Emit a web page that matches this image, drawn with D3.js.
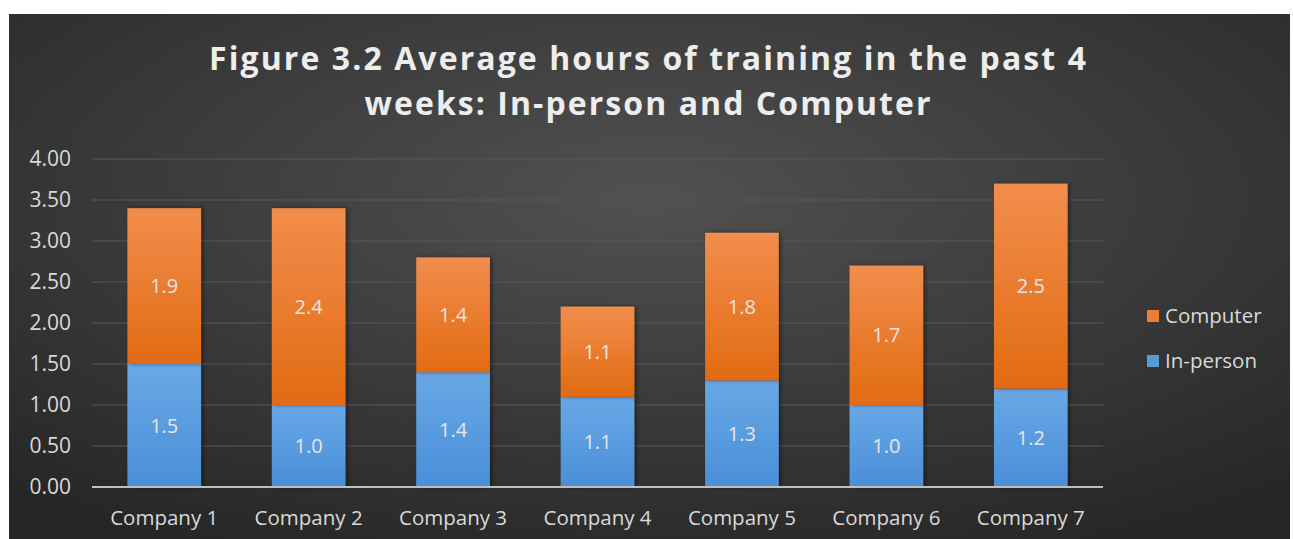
<!DOCTYPE html>
<html>
<head>
<meta charset="utf-8">
<script src="https://cdn.jsdelivr.net/npm/d3@7"></script>
<style>
  html, body { margin: 0; padding: 0; background: #fff; }
  svg { display: block; font-family: "Open Sans", sans-serif; }
</style>
</head>
<body>
<div id="chart"></div>
<script>
// chart values
var categories = ["Company 1", "Company 2", "Company 3", "Company 4", "Company 5", "Company 6", "Company 7"];
var inPerson = [1.5, 1.0, 1.4, 1.1, 1.3, 1.0, 1.2];
var computer = [1.9, 2.4, 1.4, 1.1, 1.8, 1.7, 2.5];
var yTicks = [0, 0.5, 1, 1.5, 2, 2.5, 3, 3.5, 4];
var seriesNames = ["In-person", "Computer"];
var titleLines = ["Figure 3.2 Average hours of training in the past 4", "weeks: In-person and Computer"];

var W = 1293, H = 539;
var plot = { left: 92, right: 1103, top: 159, bottom: 487 };

var svg = d3.select("#chart").append("svg")
    .attr("width", W)
    .attr("height", H);

var defs = svg.append("defs");

// background: dark radial gradient like the office "dark" chart style
var bg = defs.append("radialGradient")
    .attr("id", "bg")
    .attr("cx", "50%").attr("cy", "35%").attr("r", "75%");
bg.append("stop").attr("offset", "0%").attr("stop-color", "#515151");
bg.append("stop").attr("offset", "100%").attr("stop-color", "#262626");

function barGradient(id, top, bottom) {
  var g = defs.append("linearGradient")
      .attr("id", id)
      .attr("x1", 0).attr("y1", 0).attr("x2", 0).attr("y2", 1);
  g.append("stop").attr("offset", "0%").attr("stop-color", top);
  g.append("stop").attr("offset", "100%").attr("stop-color", bottom);
}
barGradient("gradBlue", "#68a8e6", "#4a8fd8");
barGradient("gradOrange", "#f28d4c", "#e26b12");

var shadow = defs.append("filter").attr("id", "shadow")
    .attr("x", "-20%").attr("y", "-5%").attr("width", "140%").attr("height", "110%");
shadow.append("feDropShadow")
    .attr("dx", 2).attr("dy", 0).attr("stdDeviation", 2)
    .attr("flood-color", "#000").attr("flood-opacity", 0.45);

svg.append("rect")
    .attr("x", 9).attr("y", 14)
    .attr("width", 1281).attr("height", H - 14)
    .attr("fill", "url(#bg)");

// title
var title = svg.append("g").attr("class", "title");
var titleWidths = [877, 566];
titleLines.forEach(function(line, i) {
  title.append("text")
      .attr("x", 647.5)
      .attr("y", 70 + i * 45)
      .attr("text-anchor", "middle")
      .attr("font-size", 32)
      .attr("font-weight", "bold")
      .attr("fill", "#ededed")
      .attr("textLength", titleWidths[i])
      .attr("lengthAdjust", "spacing")
      .text(line);
});

// scales
var x = d3.scaleBand()
    .domain(categories)
    .range([plot.left, plot.right])
    .paddingInner(0.49)
    .paddingOuter(0.245);

var y = d3.scaleLinear()
    .domain([0, 4])
    .range([plot.bottom, plot.top]);

// gridlines
svg.append("g").attr("class", "grid")
  .selectAll("line")
  .data(yTicks.slice(1))
  .enter().append("line")
    .attr("x1", plot.left).attr("x2", plot.right)
    .attr("y1", function(d) { return y(d); })
    .attr("y2", function(d) { return y(d); })
    .attr("stroke", "#585858")
    .attr("stroke-width", 1.2);

// y axis labels
var yAxis = svg.append("g")
    .attr("transform", "translate(71,0)")
    .call(d3.axisLeft(y).tickValues(yTicks).tickSize(0).tickPadding(0).tickFormat(d3.format(".2f")));
yAxis.select(".domain").remove();
yAxis.selectAll("text")
    .attr("font-size", 21)
    .attr("font-family", "Open Sans, sans-serif")
    .attr("fill", "#d9d9d9");

// stacked bars
var rows = categories.map(function(c, i) {
  return { cat: c, "In-person": inPerson[i], "Computer": computer[i] };
});
var stacked = d3.stack().keys(seriesNames)(rows);
var fills = { "In-person": "url(#gradBlue)", "Computer": "url(#gradOrange)" };

var layers = svg.selectAll("g.layer")
    .data(stacked)
    .enter().append("g")
    .attr("class", "layer");

layers.selectAll("rect")
    .data(function(d) { return d.map(function(p) { return { key: d.key, p: p }; }); })
    .enter().append("rect")
    .attr("x", function(d) { return x(d.p.data.cat); })
    .attr("width", x.bandwidth())
    .attr("y", function(d) { return y(d.p[1]); })
    .attr("height", function(d) { return y(d.p[0]) - y(d.p[1]); })
    .attr("fill", function(d) { return fills[d.key]; })
    .attr("filter", "url(#shadow)");

// data labels
layers.selectAll("text")
    .data(function(d) { return d.map(function(p) { return { key: d.key, p: p }; }); })
    .enter().append("text")
    .attr("x", function(d) { return x(d.p.data.cat) + x.bandwidth() / 2; })
    .attr("y", function(d) { return y((d.p[0] + d.p[1]) / 2); })
    .attr("dy", "0.35em")
    .attr("text-anchor", "middle")
    .attr("font-size", 20)
    .attr("fill", "#e6e6e6")
    .text(function(d) { return d3.format(".1f")(d.p[1] - d.p[0]); });

// x axis line and category labels
svg.append("line")
    .attr("x1", plot.left).attr("x2", plot.right)
    .attr("y1", plot.bottom).attr("y2", plot.bottom)
    .attr("stroke", "#bfbfbf")
    .attr("stroke-width", 2);

svg.append("g").selectAll("text")
    .data(categories)
    .enter().append("text")
    .attr("x", function(d) { return x(d) + x.bandwidth() / 2; })
    .attr("y", 525)
    .attr("text-anchor", "middle")
    .attr("font-size", 20.5)
    .attr("fill", "#d9d9d9")
    .text(function(d) { return d; });

// legend, Computer on top like the reference
var legendItems = seriesNames.slice().reverse();
var legend = svg.append("g").attr("class", "legend")
  .selectAll("g")
  .data(legendItems)
  .enter().append("g")
  .attr("transform", function(d, i) { return "translate(1147," + (316 + i * 45) + ")"; });

legend.append("rect")
    .attr("x", 0).attr("y", -6)
    .attr("width", 12).attr("height", 12)
    .attr("fill", function(d) { return d === "Computer" ? "#ed7d31" : "#5b9bd5"; });

legend.append("text")
    .attr("x", 18)
    .attr("dy", "0.35em")
    .attr("font-size", 20.5)
    .attr("fill", "#d9d9d9")
    .text(function(d) { return d; });
</script>
</body>
</html>
